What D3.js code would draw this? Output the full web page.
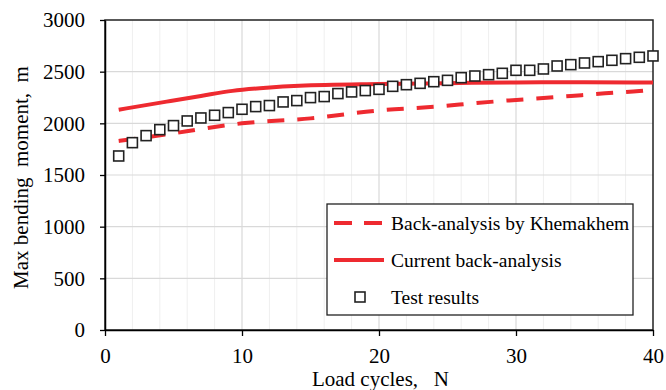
<!DOCTYPE html>
<html><head><meta charset="utf-8">
<script src="https://cdn.jsdelivr.net/npm/d3@7"></script>
<style>body{margin:0;background:#fff}svg{display:block}</style>
</head><body><svg id="c" width="666" height="390"></svg>
<script>
const testN = d3.range(1, 41);
const testVals = [1684,1813,1881,1939,1978,2023,2052,2078,2104,2136,2162,2172,2207,2220,2249,2259,2288,2304,2317,2329,
                  2358,2374,2387,2403,2416,2442,2458,2471,2484,2513,2513,2526,2555,2568,2584,2597,2610,2626,2639,2652];
const currentN = [1,4.5,7,9.3,11.8,14.2,20,25,30,35,40];
const currentVals = [2132,2210,2265,2314,2345,2364,2381,2389,2396,2398,2394];
const khemN = [1,5,7,10,15,20,24.5,27,29.5,32,34,36.5,39,40];
const khemVals = [1829,1903,1945,2000,2048,2125,2165,2195,2222,2245,2265,2290,2312,2325];
const xTicks = [0,10,20,30,40];
const yTicks = [0,500,1000,1500,2000,2500,3000];
const legendLabels = ["Back-analysis by Khemakhem","Current back-analysis","Test results"];

const FONT = "Liberation Serif";
const svg = d3.select("#c");
const L=105, R=653, T=20, B=330;
const x = d3.scaleLinear().domain([0,40]).range([L,R]);
const y = d3.scaleLinear().domain([0,3000]).range([B,T]);
const red = "#ee2a30";

svg.append("g").selectAll("line").data(d3.range(2,40,2).filter(v=>v%10!==0)).join("line")
  .attr("x1",d=>x(d)).attr("x2",d=>x(d)).attr("y1",T).attr("y2",B)
  .attr("stroke","#efefef").attr("stroke-width",1);
svg.append("g").selectAll("line").data([10,20,30]).join("line")
  .attr("x1",d=>x(d)).attr("x2",d=>x(d)).attr("y1",T).attr("y2",B)
  .attr("stroke","#d9d9d9").attr("stroke-width",1.2);
svg.append("g").selectAll("line").data(yTicks.slice(1,-1)).join("line")
  .attr("x1",L).attr("x2",R).attr("y1",d=>y(d)).attr("y2",d=>y(d))
  .attr("stroke","#d9d9d9").attr("stroke-width",1.2);

svg.append("rect").attr("x",L).attr("y",T).attr("width",R-L).attr("height",B-T)
  .attr("fill","none").attr("stroke","#222").attr("stroke-width",1.5);

const xa = svg.append("g").attr("transform",`translate(0,${B})`)
  .call(d3.axisBottom(x).tickValues(xTicks).tickFormat(d3.format("d")).tickSize(6).tickPadding(11.6).tickSizeOuter(0));
const ya = svg.append("g").attr("transform",`translate(${L},0)`)
  .call(d3.axisLeft(y).tickValues(yTicks).tickFormat(d3.format("d")).tickSize(5).tickPadding(15).tickSizeOuter(0));
[xa,ya].forEach(a=>{
  a.attr("font-family",null).attr("font-size",null);
  a.select(".domain").attr("stroke","#000").attr("stroke-width",1.5);
  a.selectAll(".tick line").attr("stroke","#000").attr("stroke-width",1.3);
  a.selectAll("text").attr("fill","#000").attr("font-family",FONT).attr("font-size",21);
});

const line = d3.line().x(d=>x(d[0])).y(d=>y(d[1])).curve(d3.curveMonotoneX);
svg.append("path").datum(khemN.map((n,i)=>[n,khemVals[i]])).attr("d",line)
  .attr("fill","none").attr("stroke",red).attr("stroke-width",4).attr("stroke-dasharray","17,13");
svg.append("path").datum(currentN.map((n,i)=>[n,currentVals[i]])).attr("d",line)
  .attr("fill","none").attr("stroke",red).attr("stroke-width",4);

const s = 10;
svg.append("g").selectAll("rect").data(testN.map((n,i)=>[n,testVals[i]])).join("rect")
  .attr("x",d=>x(d[0])-s/2).attr("y",d=>y(d[1])-s/2).attr("width",s).attr("height",s)
  .attr("fill","#fff").attr("stroke","#222").attr("stroke-width",1.6);

const lg = svg.append("g");
lg.append("rect").attr("x",327).attr("y",204).attr("width",306).attr("height",111)
  .attr("fill","#fff").attr("stroke","#222").attr("stroke-width",1.3);
const rows=[223,260,297];
lg.append("line").attr("x1",334).attr("x2",382).attr("y1",rows[0]).attr("y2",rows[0])
  .attr("stroke",red).attr("stroke-width",4).attr("stroke-dasharray","18,12");
lg.append("line").attr("x1",334).attr("x2",384).attr("y1",rows[1]).attr("y2",rows[1])
  .attr("stroke",red).attr("stroke-width",4);
lg.append("rect").attr("x",360-s/2).attr("y",rows[2]-s/2).attr("width",s).attr("height",s)
  .attr("fill","#fff").attr("stroke","#222").attr("stroke-width",1.6);
lg.selectAll("text.l").data(legendLabels).join("text").attr("class","l")
  .attr("x",391).attr("y",(d,i)=>rows[i]).attr("dy","0.35em").attr("font-family",FONT).attr("font-size",19.5).attr("fill","#000").text(d=>d);

svg.append("text").attr("x",380.5).attr("y",386).attr("text-anchor","middle").attr("font-family",FONT).attr("font-size",21)
  .style("white-space","pre").text("Load cycles,   N");
svg.append("text").attr("transform",`translate(28,177.5) rotate(-90)`).attr("text-anchor","middle").attr("font-family",FONT).attr("font-size",21)
  .style("white-space","pre").text("Max bending  moment,  m");
</script></body></html>
